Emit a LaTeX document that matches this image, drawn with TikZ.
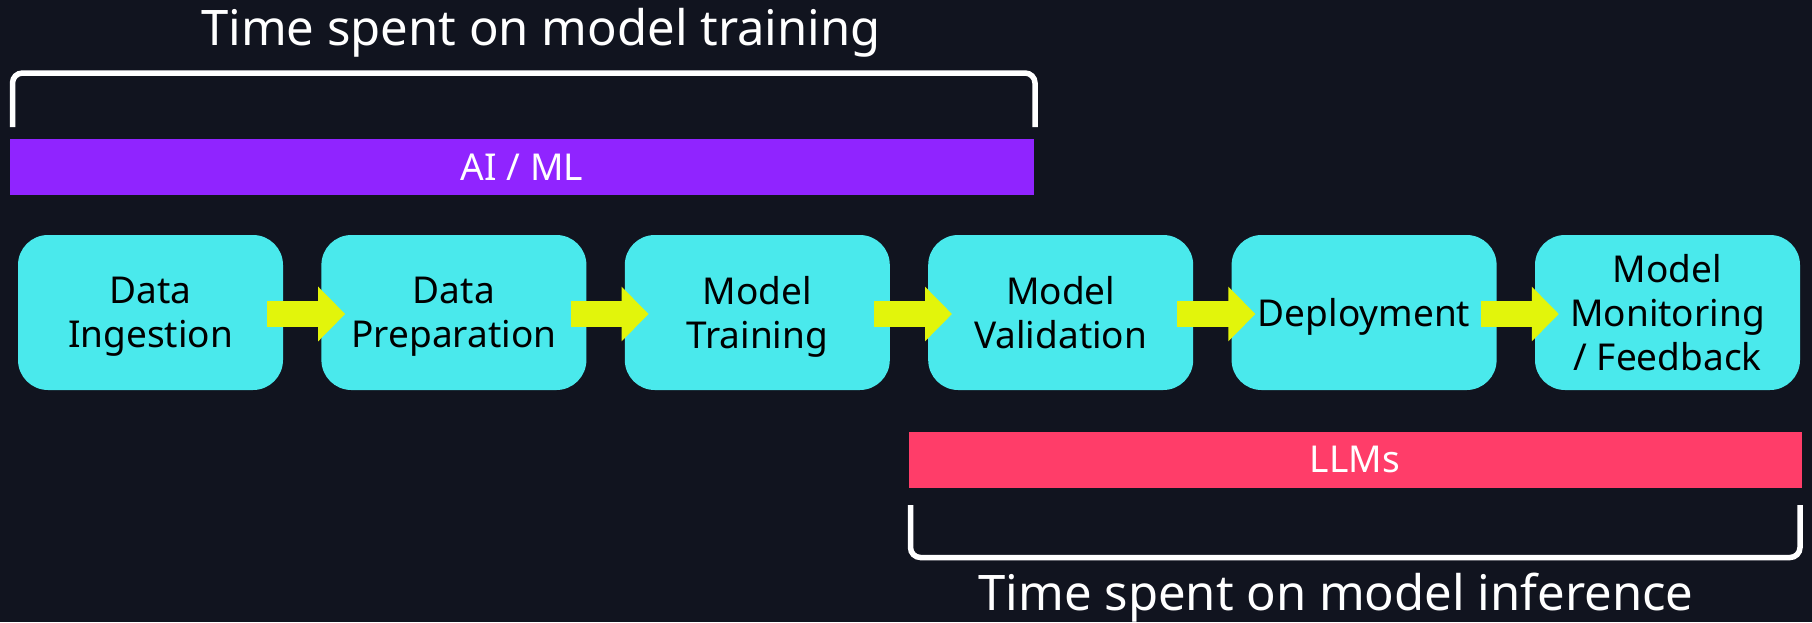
\documentclass[tikz,border=0pt]{standalone}
\usepackage{fontspec}
\setmainfont{Noto Sans}
\usetikzlibrary{positioning,arrows.meta}

\definecolor{bgnavy}{HTML}{11141F}
\definecolor{stagecyan}{HTML}{4AE9EC}
\definecolor{aimlpurple}{HTML}{9024FF}
\definecolor{llmpink}{HTML}{FF3D69}
\definecolor{flowyellow}{HTML}{E2F50B}

\tikzset{
  stage/.style={fill=stagecyan, rounded corners=30pt, minimum width=265pt, minimum height=155pt,
    inner sep=0pt, text depth=0pt, align=center, text=black, font=\fontsize{37}{44}\selectfont},
  band/.style={minimum height=56pt, inner sep=0pt, text=white, font=\fontsize{37}{44}\selectfont},
  flow/.style={flowyellow, line width=26pt, -{Triangle[length=27pt,width=53pt]}},
  bracket/.style={white, line width=5.5pt, rounded corners=10pt},
  heading/.style={text=white, font=\fontsize{49}{58}\selectfont, anchor=base, inner sep=0pt},
}

\begin{document}
\begin{tikzpicture}[x=1pt, y=-1pt, node distance=38pt]
  % Define parameters
  \def\W{1812} % Width of the picture
  \def\H{622} % Height of the picture

  % Background first (so everything is drawn on top)
  \fill[bgnavy] (0,0) rectangle (\W,\H);
  \useasboundingbox (0,0) rectangle (\W,\H);

  % Define key coordinates
  \coordinate (TL) at (12.5,127);    % Left tip of training bracket
  \coordinate (TR) at (1035,127);    % Right tip of training bracket
  \coordinate (BL) at (910.5,505);   % Left tip of inference bracket
  \coordinate (BR) at (1800,505);    % Right tip of inference bracket

  % Headings
  \node[heading] (trainhead) at (541,45) {Time spent on model training};
  \node[heading] (inferhead) at (1336,610) {Time spent on model inference};

  % Draw the brackets
  \draw[bracket] (TL) -- (12.5,73) -- (1035,73) -- (TR);
  \draw[bracket] (BL) -- (910.5,557.5) -- (1800,557.5) -- (BR);

  % Bands
  \node[band, fill=aimlpurple, minimum width=1024pt] (aiml) at (522,167) {AI / ML};
  \node[band, fill=llmpink, minimum width=893pt] (llms) at (1355,459.5) {LLMs};

  % Pipeline stages
  \node[stage] (ingest) at (150.5,312.5) {Data\\Ingestion};
  \node[stage, right=of ingest] (prep) {Data\\Preparation};
  \node[stage, right=of prep] (train) {Model\\Training};
  \node[stage, right=of train] (valid) {Model\\Validation};
  \node[stage, right=of valid] (deploy) {Deployment};
  \node[stage, right=of deploy] (monitor) {Model\\Monitoring\\/ Feedback};

  % Arrows between the stages (drawn over the box edges)
  \draw[flow] ([xshift=-16pt, yshift=-1.5pt]ingest.east) -- ([xshift=24pt, yshift=-1.5pt]prep.west);
  \draw[flow] ([xshift=-16pt, yshift=-1.5pt]prep.east) -- ([xshift=24pt, yshift=-1.5pt]train.west);
  \draw[flow] ([xshift=-16pt, yshift=-1.5pt]train.east) -- ([xshift=24pt, yshift=-1.5pt]valid.west);
  \draw[flow] ([xshift=-16pt, yshift=-1.5pt]valid.east) -- ([xshift=24pt, yshift=-1.5pt]deploy.west);
  \draw[flow] ([xshift=-16pt, yshift=-1.5pt]deploy.east) -- ([xshift=24pt, yshift=-1.5pt]monitor.west);

\end{tikzpicture}
\end{document}
